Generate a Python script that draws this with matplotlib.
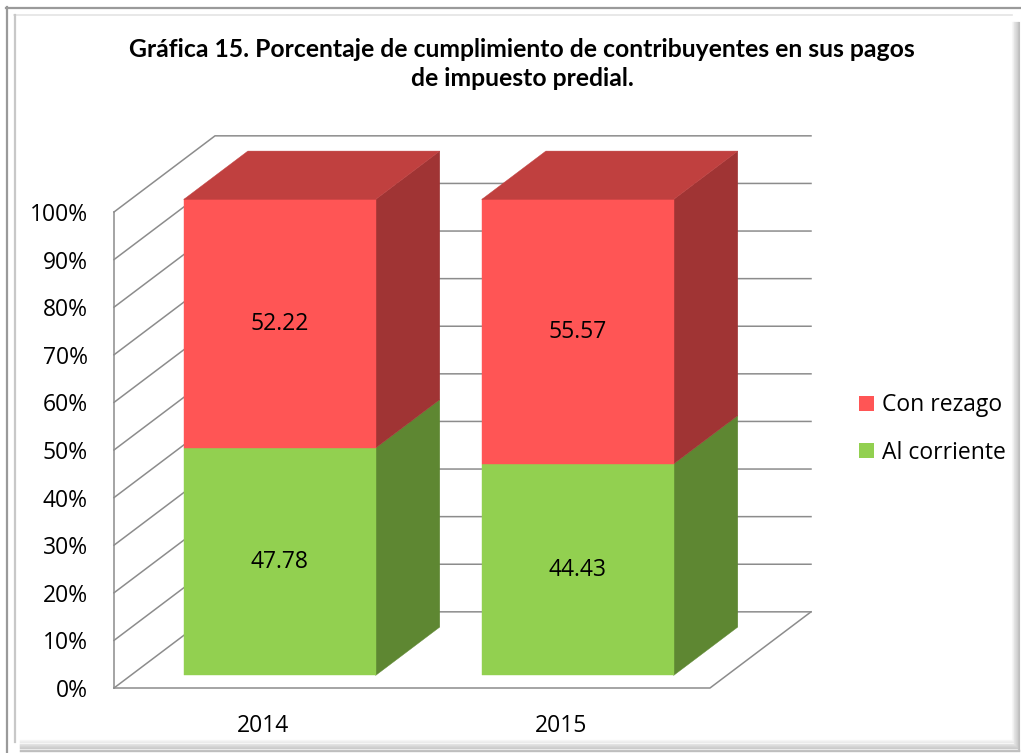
import matplotlib
matplotlib.use("Agg")
import matplotlib.pyplot as plt
from matplotlib.patches import Polygon, Patch
from matplotlib.lines import Line2D

# ---- data ----
categories = ["2014", "2015"]
al_corriente = [47.78, 44.43]
con_rezago = [52.22, 55.57]
series_names = ["Al corriente", "Con rezago"]
y_ticks = list(range(0, 101, 10))
y_tick_labels = [f"{v}%" for v in y_ticks]
title = ("Gráfica 15. Porcentaje de cumplimiento de contribuyentes en sus pagos\n"
         "de impuesto predial.")

# ---- style ----
FRONT = {"Al corriente": "#92D050", "Con rezago": "#FF5555"}
SIDE = {"Al corriente": "#5E8732", "Con rezago": "#A03434"}
TOP = {"Al corriente": "#76A83F", "Con rezago": "#C0403F"}
GRID = "#8C8C8C"
FONT = "Open Sans"

W, H = 1021, 753
fig = plt.figure(figsize=(W / 100, H / 100), dpi=100)
fig.patch.set_facecolor("white")

# front plane of the 3D plot
ax = fig.add_axes([114 / W, (H - 688) / H, 596 / W, 476 / H])
ax.set_xlim(-0.5, len(categories) - 0.5)
ax.set_ylim(0, 100)
ax.patch.set_visible(False)
for s in ax.spines.values():
    s.set_visible(False)

DX = 101 / 298.0   # depth offset in category units
DY = 16.0          # depth offset in percent units


def P(x, y, d):
    return (x + DX * d, y + DY * d)


x0, x1 = -0.5, len(categories) - 0.5
# walls / gridlines
for v in y_ticks:
    pts = [P(x0, v, 0), P(x0, v, 1), P(x1, v, 1)]
    ax.add_line(Line2D([p[0] for p in pts], [p[1] for p in pts], color=GRID,
                       lw=1.1, clip_on=False, zorder=1))
ax.add_line(Line2D([x0, x0], [0, 100], color=GRID, lw=1.1, clip_on=False, zorder=1))
floor = [P(x0, 0, 0), P(x1, 0, 0), P(x1, 0, 1)]
ax.add_line(Line2D([p[0] for p in floor], [p[1] for p in floor], color=GRID,
                   lw=1.1, clip_on=False, zorder=1))

# bars
d0, d1 = 0.165, 0.80
hw = 0.322
for i, cat in enumerate(categories):
    bottom = 0.0
    segs = [("Al corriente", al_corriente[i]), ("Con rezago", con_rezago[i])]
    for k, (name, val) in enumerate(segs):
        top = bottom + val
        side = [P(i + hw, bottom, d0), P(i + hw, bottom, d1),
                P(i + hw, top, d1), P(i + hw, top, d0)]
        ax.add_patch(Polygon(side, closed=True, facecolor=SIDE[name],
                             edgecolor=SIDE[name], lw=0.3, clip_on=False, zorder=3))
        front = [P(i - hw, bottom, d0), P(i + hw, bottom, d0),
                 P(i + hw, top, d0), P(i - hw, top, d0)]
        ax.add_patch(Polygon(front, closed=True, facecolor=FRONT[name],
                             edgecolor=FRONT[name], lw=0.3, clip_on=False, zorder=4))
        if k == len(segs) - 1:
            topf = [P(i - hw, top, d0), P(i + hw, top, d0),
                    P(i + hw, top, d1), P(i - hw, top, d1)]
            ax.add_patch(Polygon(topf, closed=True, facecolor=TOP[name],
                                 edgecolor=TOP[name], lw=0.3, clip_on=False, zorder=4))
        tx, ty = P(i, (bottom + top) / 2, d0)
        ax.text(tx, ty, f"{val:.2f}", ha="center", va="center", fontsize=16.5,
                family=FONT, color="black", zorder=6)
        bottom = top

# axes ticks
ax.set_yticks(y_ticks)
ax.set_yticklabels(y_tick_labels, family=FONT, fontsize=16.5)
ax.set_xticks(range(len(categories)))
ax.set_xticklabels(categories, family=FONT, fontsize=16.5)
ax.tick_params(axis="y", length=0, pad=19)
ax.tick_params(axis="x", length=0, pad=19)

# legend
handles = [Patch(facecolor=FRONT["Con rezago"], label="Con rezago"),
           Patch(facecolor=FRONT["Al corriente"], label="Al corriente")]
fig.legend(handles=handles, loc="center left", bbox_to_anchor=(859 / W, 1 - 429 / H),
           frameon=False, prop={"family": FONT, "size": 16.5},
           handlelength=0.65, handleheight=0.65, handletextpad=0.35,
           labelspacing=1.02, borderpad=0, borderaxespad=0)

# title
fig.text(522 / W, 1 - 64 / H, title, ha="center", va="center", fontsize=17.8,
         weight="bold", family="Lato", linespacing=1.28, multialignment="center")

# frame
def fl(xs, ys, c, lw):
    fig.add_artist(Line2D([x / W for x in xs], [1 - y / H for y in ys],
                          color=c, lw=lw, transform=fig.transFigure))

fl([6, W], [7.5, 7.5], "#9A9A9A", 1.6)
fl([6.5, 6.5], [7, H], "#9A9A9A", 1.6)
fl([14, 1012], [15, 15], "#E4E4E4", 1.2)
fl([14.5, 14.5], [15, 742], "#C8C8C8", 1.6)
for j in range(10):
    c = 0.97 - 0.025 * j
    fl([20, 1013 + j * 0.7], [740 + j * 1.2, 740 + j * 1.2], (c, c, c), 1.0)
    fl([1012 + j * 0.8, 1012 + j * 0.8], [22, 741 + j], (c, c, c), 0.8)

fig.savefig("out.png", dpi=100)
